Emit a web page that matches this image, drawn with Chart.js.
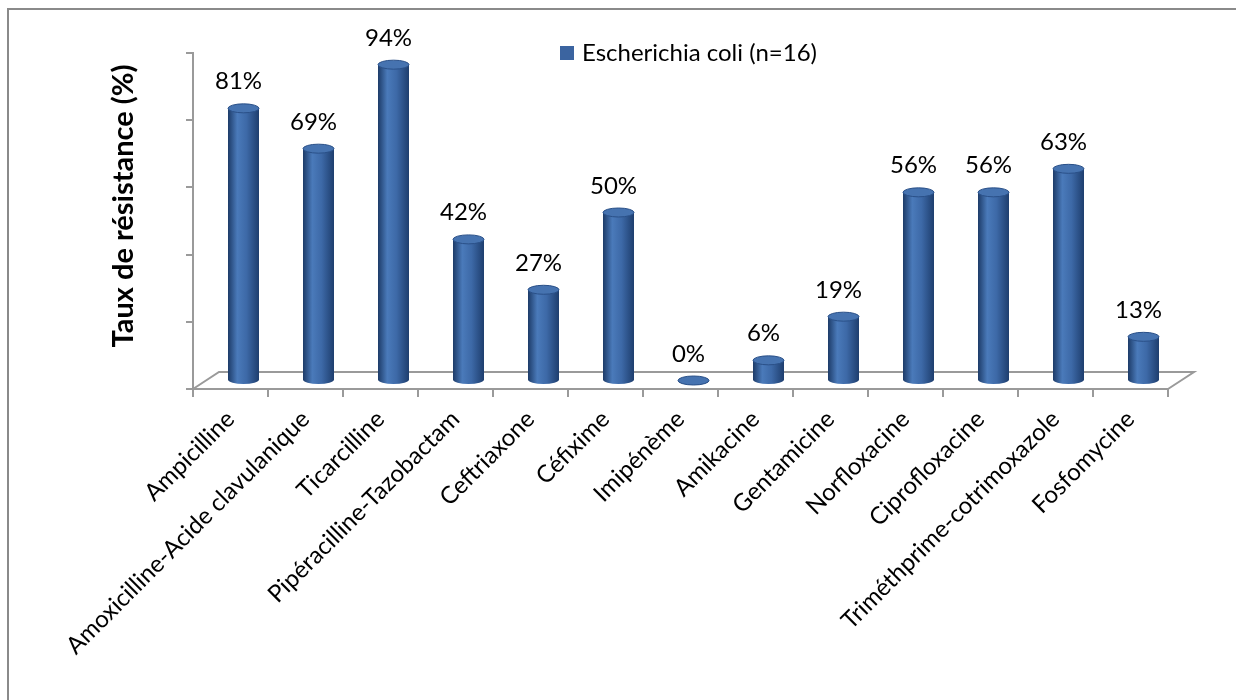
<!DOCTYPE html>
<html>
<head>
<meta charset="utf-8">
<script src="https://cdn.jsdelivr.net/npm/chart.js@4"></script>
<style>
  html, body { margin: 0; padding: 0; background: #fff; }
  #wrap { width: 1236px; height: 700px; }
</style>
</head>
<body>
<div id="wrap"><canvas id="resChart" width="1236" height="700"></canvas></div>
<script>
// ===== Data =====
const antibiotics = ["Ampicilline", "Amoxicilline-Acide clavulanique", "Ticarcilline",
    "Pipéracilline-Tazobactam", "Ceftriaxone", "Céfixime", "Imipénème", "Amikacine",
    "Gentamicine", "Norfloxacine", "Ciprofloxacine", "Triméthprime-cotrimoxazole", "Fosfomycine"];
const resistance = [81, 69, 94, 42, 27, 50, 0, 6, 19, 56, 56, 63, 13];
const seriesName = "Escherichia coli (n=16)";
const yTitle = "Taux de résistance (%)";

const FONT = "Lato, 'Open Sans', sans-serif";
const AXIS_GREY = "#9a9a9a";
const DEPTH_X = 26, DEPTH_Y = 17;   // 3D floor depth

function drawCylinder(ctx, cx, top, base, w) {
    const rx = w / 2, ry = 4.5;
    const g = ctx.createLinearGradient(cx - rx, 0, cx + rx, 0);
    g.addColorStop(0, "#1d3b68");
    g.addColorStop(0.3, "#4a7aba");
    g.addColorStop(0.6, "#3d69a7");
    g.addColorStop(1, "#1e3e6e");
    ctx.beginPath();
    ctx.moveTo(cx - rx, top);
    ctx.lineTo(cx - rx, base);
    ctx.ellipse(cx, base, rx, ry, 0, Math.PI, 0, true);
    ctx.lineTo(cx + rx, top);
    ctx.closePath();
    ctx.fillStyle = g;
    ctx.fill();
    // top cap
    ctx.beginPath();
    ctx.ellipse(cx, top, rx, ry, 0, 0, Math.PI * 2);
    ctx.fillStyle = "#4673b0";
    ctx.fill();
    ctx.strokeStyle = "#2a5088";
    ctx.lineWidth = 1;
    ctx.stroke();
}

const pseudo3d = {
    id: "pseudo3d",
    beforeDraw(chart) {
        const ctx = chart.ctx;
        ctx.save();
        ctx.fillStyle = "#fff";
        ctx.fillRect(0, 0, chart.width, chart.height);
        ctx.strokeStyle = "#8a8a8a";
        ctx.lineWidth = 2;
        ctx.strokeRect(8, 9, chart.width + 20, chart.height + 20);
        ctx.restore();
    },
    beforeDatasetsDraw(chart) {
        const { ctx, chartArea: ca } = chart;
        ctx.save();
        ctx.strokeStyle = AXIS_GREY;
        ctx.lineWidth = 2;
        ctx.beginPath();
        ctx.moveTo(ca.left, ca.bottom);
        ctx.lineTo(ca.left + DEPTH_X, ca.bottom - DEPTH_Y);
        ctx.lineTo(ca.right + DEPTH_X, ca.bottom - DEPTH_Y);
        ctx.lineTo(ca.right, ca.bottom);
        ctx.stroke();
        ctx.restore();
    },
    afterDatasetsDraw(chart) {
        const ctx = chart.ctx;
        const meta = chart.getDatasetMeta(0);
        ctx.save();
        meta.data.forEach((bar, i) => {
            const cx = bar.x + DEPTH_X / 2;
            const base = bar.base - DEPTH_Y / 2;
            const top = bar.y - DEPTH_Y / 2;
            drawCylinder(ctx, cx, top, base, 31);
            ctx.fillStyle = "#000";
            ctx.font = "24px " + FONT;
            ctx.textAlign = "center";
            ctx.textBaseline = "alphabetic";
            ctx.fillText(resistance[i] + "%", cx - 5, top - 19);
        });
        ctx.restore();
    },
    afterDraw(chart) {
        const ctx = chart.ctx;
        ctx.save();
        // legend
        ctx.fillStyle = "#3b64a0";
        ctx.fillRect(560, 46, 14, 14);
        ctx.fillStyle = "#000";
        ctx.font = "24px " + FONT;
        ctx.textAlign = "left";
        ctx.textBaseline = "middle";
        ctx.fillText(seriesName, 582, 53);
        // y axis title
        ctx.translate(124, 206);
        ctx.rotate(-Math.PI / 2);
        ctx.font = "bold 29px " + FONT;
        ctx.textAlign = "center";
        ctx.fillText(yTitle, 0, 0);
        ctx.restore();
    }
};

new Chart(document.getElementById("resChart").getContext("2d"), {
    type: "bar",
    data: {
        labels: antibiotics,
        datasets: [{
            label: seriesName,
            data: resistance,
            backgroundColor: "rgba(0,0,0,0)",
            borderWidth: 0
        }]
    },
    options: {
        responsive: false,
        animation: false,
        layout: { padding: { top: 53, right: 68, left: 0, bottom: 0 } },
        plugins: {
            legend: { display: false },
            tooltip: { enabled: false }
        },
        scales: {
            x: {
                grid: { display: true, drawOnChartArea: false, offset: true, tickLength: 8, color: AXIS_GREY, lineWidth: 2 },
                border: { display: true, color: AXIS_GREY, width: 2 },
                ticks: {
                    autoSkip: false, maxRotation: 45, minRotation: 45,
                    color: "#000", font: { family: FONT, size: 24 }, padding: 8
                },
                afterFit(scale) { scale.height = 311; }
            },
            y: {
                min: 0, max: 100,
                ticks: { stepSize: 20, display: false },
                grid: { drawOnChartArea: false, tickLength: 7, color: AXIS_GREY, lineWidth: 2 },
                border: { display: true, color: AXIS_GREY, width: 2 },
                afterFit(scale) { scale.width = 193; }
            }
        }
    },
    plugins: [pseudo3d]
});
</script>
</body>
</html>
